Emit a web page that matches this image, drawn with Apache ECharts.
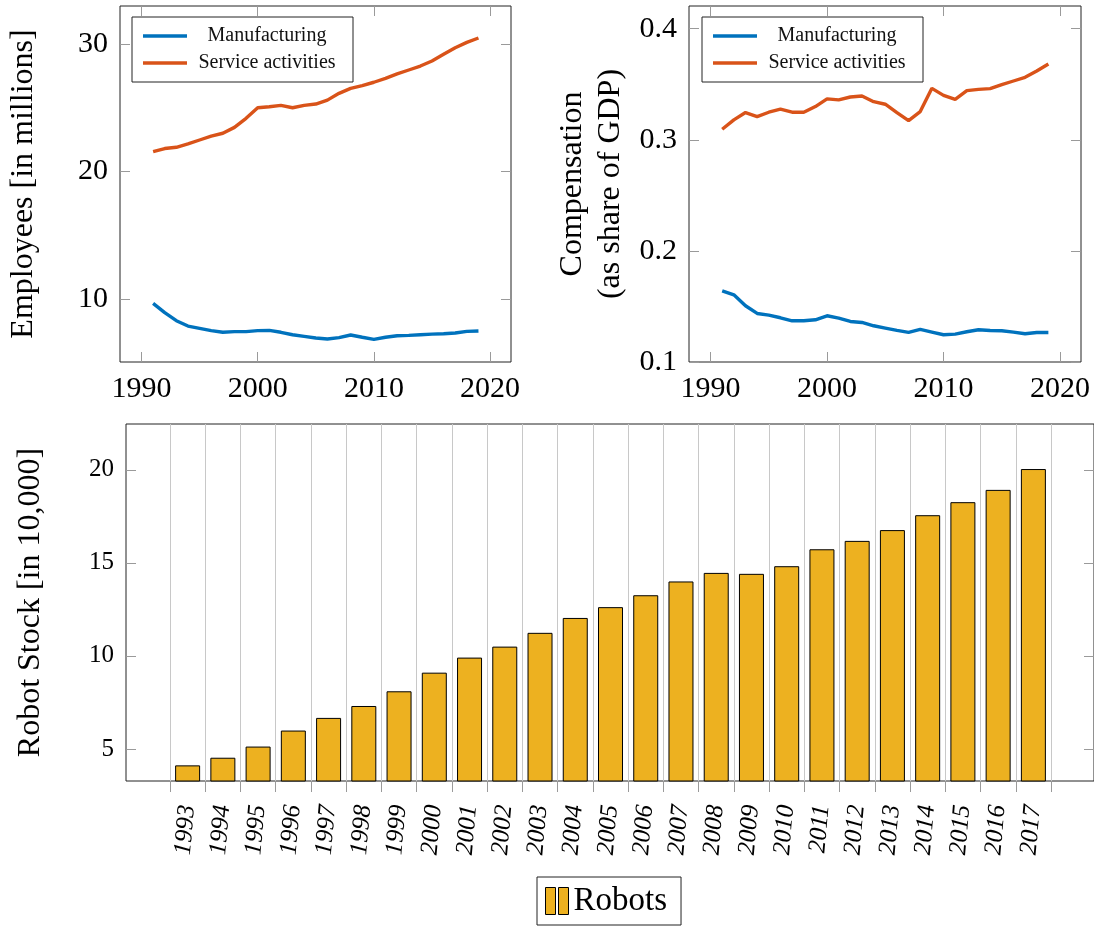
<!DOCTYPE html>
<html lang="en">
<head>
<meta charset="UTF-8">
<title>Employees, compensation and robot stock</title>
<script src="https://cdn.jsdelivr.net/npm/echarts@6/dist/echarts.min.js"></script>
<style>
  html, body { margin: 0; padding: 0; background: #fff; }
  #main { width: 1094px; height: 927px; }
</style>
</head>
<body>
<div id="main"></div>
<script>
var years = [1991, 1992, 1993, 1994, 1995, 1996, 1997, 1998, 1999, 2000,
             2001, 2002, 2003, 2004, 2005, 2006, 2007, 2008, 2009, 2010,
             2011, 2012, 2013, 2014, 2015, 2016, 2017, 2018, 2019];

// employees, millions
var empManufacturing = [9.66, 8.93, 8.30, 7.88, 7.70, 7.52, 7.39, 7.44, 7.44, 7.52,
                        7.54, 7.39, 7.20, 7.07, 6.94, 6.86, 6.97, 7.18, 7.00, 6.84,
                        7.00, 7.12, 7.15, 7.20, 7.25, 7.28, 7.33, 7.46, 7.49];
var empService = [21.56, 21.80, 21.90, 22.16, 22.47, 22.78, 23.00, 23.46, 24.17, 25.00,
                  25.08, 25.19, 25.00, 25.19, 25.29, 25.60, 26.13, 26.52, 26.73, 27.00,
                  27.30, 27.65, 27.96, 28.27, 28.67, 29.19, 29.71, 30.13, 30.47];

// compensation, share of GDP
var compManufacturing = [0.1641, 0.1605, 0.1506, 0.1437, 0.1422, 0.1398, 0.1371, 0.1371, 0.1380, 0.1416,
                         0.1395, 0.1365, 0.1356, 0.1326, 0.1305, 0.1284, 0.1266, 0.1293, 0.1269, 0.1245,
                         0.1251, 0.1272, 0.1290, 0.1284, 0.1281, 0.1269, 0.1254, 0.1266, 0.1266];
var compService = [0.3095, 0.3179, 0.3245, 0.3209, 0.3248, 0.3275, 0.3248, 0.3248, 0.3299, 0.3368,
                   0.3359, 0.3385, 0.3394, 0.3343, 0.3320, 0.3245, 0.3173, 0.3254, 0.3463, 0.3400,
                   0.3364, 0.3442, 0.3454, 0.3460, 0.3496, 0.3529, 0.3562, 0.3619, 0.3682];

// robot stock, in 10,000
var robotYears = ['1993', '1994', '1995', '1996', '1997', '1998', '1999', '2000', '2001',
                  '2002', '2003', '2004', '2005', '2006', '2007', '2008', '2009', '2010',
                  '2011', '2012', '2013', '2014', '2015', '2016', '2017'];
var robotStock = [4.12, 4.53, 5.13, 5.99, 6.67, 7.31, 8.10, 9.10, 9.91, 10.50, 11.24, 12.04,
                  12.62, 13.26, 14.00, 14.46, 14.41, 14.82, 15.73, 16.18, 16.76, 17.56,
                  18.26, 18.92, 20.04];

var yearTicks = [1990, 2000, 2010, 2020];
var empTicks = [10, 20, 30];
var compTicks = [0.1, 0.2, 0.3, 0.4];
var robotTicks = [5, 10, 15, 20];

var FONT = 'Liberation Serif';
var BLUE = '#0072BD', ORANGE = '#D95319', GOLD = '#EDB120';
var TICK = '#9a9a9a';

function pair(xs, ys) {
  return xs.map(function (x, i) { return [x, ys[i]]; });
}

function frame(left, top, width, height) {
  return { left: left, top: top, width: width, height: height, show: true,
           borderColor: '#222', borderWidth: 1, backgroundColor: 'rgba(0,0,0,0)' };
}

function yearAxis(grid, pos, labels) {
  return {
    gridIndex: grid, type: 'value', position: pos, min: 1988.15, max: 2021.8,
    axisLine: { show: false },
    splitLine: { show: false },
    axisTick: { show: true, inside: true, length: 10, customValues: yearTicks,
                lineStyle: { color: TICK } },
    axisLabel: { show: labels, customValues: yearTicks, margin: 12,
                 formatter: function (v) { return String(v); },
                 fontFamily: FONT, fontSize: 30, color: '#000' }
  };
}

function valueAxis(grid, pos, min, max, ticks, name, gap, size) {
  var ax = {
    gridIndex: grid, type: 'value', position: pos, min: min, max: max,
    axisLine: { show: false },
    splitLine: { show: false },
    axisTick: { show: true, inside: true, length: 10, customValues: ticks,
                lineStyle: { color: TICK } },
    axisLabel: { show: !!name, customValues: ticks, margin: 12,
                 fontFamily: FONT, fontSize: size || 30, color: '#000' }
  };
  if (name) {
    ax.name = name;
    ax.nameLocation = 'middle';
    ax.nameRotate = 90;
    ax.nameGap = gap;
    ax.nameTextStyle = { fontFamily: FONT, fontSize: 32, color: '#000', lineHeight: 38 };
  }
  return ax;
}

function lineLegend(left) {
  return {
    left: left, top: 17, orient: 'vertical',
    data: ['Manufacturing', 'Service activities'],
    icon: 'rect', itemWidth: 44, itemHeight: 3.5, itemTextGap: 4, itemGap: 7,
    padding: [9, 11, 9, 11],
    borderColor: '#222', borderWidth: 1, backgroundColor: '#fff',
    formatter: function (name) { return '{t|' + name + '}'; },
    textStyle: {
      fontFamily: FONT, fontSize: 20, color: '#111',
      rich: { t: { width: 150, align: 'center', fontFamily: FONT, fontSize: 20, lineHeight: 20, color: '#111' } }
    }
  };
}

function line(name, xi, yi, data, color) {
  return {
    name: name, type: 'line', xAxisIndex: xi, yAxisIndex: yi,
    data: data, symbol: 'none',
    lineStyle: { width: 3.4, color: color }, itemStyle: { color: color }
  };
}

var chart = echarts.init(document.getElementById('main'));

chart.setOption({
  animation: false,
  grid: [
    frame(120, 6, 391, 356),
    frame(689, 6, 392, 356),
    frame(126, 424, 968, 357),
    { left: 170, top: 424, width: 881, height: 357 }
  ],
  legend: [
    lineLegend(132),
    lineLegend(702),
    {
      left: 537, top: 877, data: ['Robots'],
      icon: 'path://M0,0H10V27H0Z M13,0H23V27H13Z',
      itemWidth: 23, itemHeight: 27, itemTextGap: 7,
      padding: [7, 14, 7, 8],
      borderColor: '#222', borderWidth: 1, backgroundColor: '#fff',
      itemStyle: { borderColor: '#000', borderWidth: 1 },
      textStyle: { fontFamily: FONT, fontSize: 33, lineHeight: 34, color: '#000' }
    }
  ],
  xAxis: [
    yearAxis(0, 'bottom', true),
    yearAxis(0, 'top', false),
    yearAxis(1, 'bottom', true),
    yearAxis(1, 'top', false),
    { gridIndex: 2, type: 'value', min: 0, max: 1, show: false },
    {
      gridIndex: 3, type: 'category', data: robotYears, position: 'bottom',
      axisLine: { show: false },
      axisTick: { show: true, inside: false, length: 11, lineStyle: { color: TICK } },
      splitLine: { show: true, lineStyle: { color: '#c8c8c8', width: 1 } },
      axisLabel: { rotate: 85, margin: 24, fontFamily: FONT, fontStyle: 'italic',
                   fontSize: 25, color: '#000' }
    }
  ],
  yAxis: [
    valueAxis(0, 'left', 5.06, 32.98, empTicks, 'Employees [in millions]', 77),
    valueAxis(0, 'right', 5.06, 32.98, empTicks),
    valueAxis(1, 'left', 0.1, 0.4204, compTicks, 'Compensation\n(as share of GDP)', 59),
    valueAxis(1, 'right', 0.1, 0.4204, compTicks),
    valueAxis(2, 'left', 3.28, 22.46, robotTicks, 'Robot Stock [in 10,000]', 76, 25),
    valueAxis(2, 'right', 3.28, 22.46, robotTicks),
    { gridIndex: 3, type: 'value', min: 3.28, max: 22.46, show: false }
  ],
  series: [
    line('Manufacturing', 0, 0, pair(years, empManufacturing), BLUE),
    line('Service activities', 0, 0, pair(years, empService), ORANGE),
    line('Manufacturing', 2, 2, pair(years, compManufacturing), BLUE),
    line('Service activities', 2, 2, pair(years, compService), ORANGE),
    {
      name: 'Robots', type: 'bar', xAxisIndex: 5, yAxisIndex: 6,
      data: robotStock, barWidth: 25, clip: true,
      itemStyle: { color: GOLD, borderColor: '#000', borderWidth: 1 }
    }
  ]
});
</script>
</body>
</html>
